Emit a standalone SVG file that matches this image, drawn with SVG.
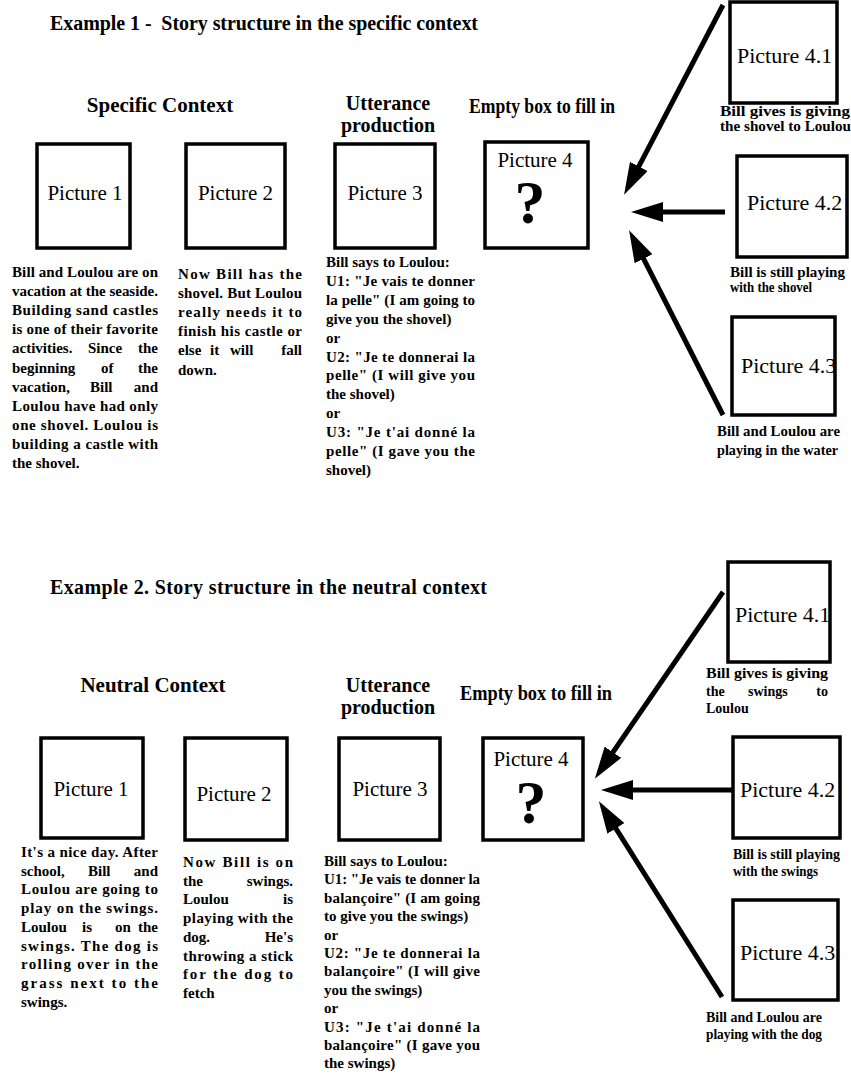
<svg xmlns="http://www.w3.org/2000/svg" width="851" height="1080" viewBox="0 0 851 1080">
<style>
text{font-family:"Liberation Serif","Times New Roman",serif;fill:#000}
.title{font-size:20px;font-weight:bold;white-space:pre}
.head{font-size:21px;font-weight:bold;text-anchor:middle}
.head2{font-size:20px;font-weight:bold;text-anchor:middle}
.pic{font-size:21px;text-anchor:middle}
.picl{font-size:22px}
.q{font-size:62px;font-weight:bold;text-anchor:middle}
.body{font-size:15px;font-weight:bold}
.cap{font-size:14px;font-weight:bold}
.end{text-anchor:end}
.box{fill:none;stroke:#000;stroke-width:3.5}
.arrow{stroke:#000;stroke-width:5;fill:none;marker-end:url(#ah)}
</style>
<defs>
<marker id="ah" markerUnits="userSpaceOnUse" markerWidth="32" markerHeight="20" viewBox="0 0 32 20" refX="22" refY="10" orient="auto">
<path d="M0,0 L32,10 L0,20 z" fill="#000"/>
</marker>
<clipPath id="c1"><rect x="730" y="2" width="107" height="101"/></clipPath>
<clipPath id="c2"><rect x="737" y="156" width="110" height="101"/></clipPath>
<clipPath id="c3"><rect x="732" y="317" width="103" height="98"/></clipPath>
<clipPath id="c4"><rect x="728" y="562" width="102" height="100"/></clipPath>
<clipPath id="c5"><rect x="733" y="737" width="107" height="101"/></clipPath>
<clipPath id="c6"><rect x="733" y="900" width="105" height="100"/></clipPath>
</defs>
<rect width="851" height="1080" fill="#fff"/>

<!-- Example 1 -->
<g id="ex1-headings">
<text class="title" x="50" y="30" textLength="428" lengthAdjust="spacing">Example 1 -  Story structure in the specific context</text>
<text class="head" x="160" y="112">Specific Context</text>
<text class="head2" x="388" y="110">Utterance</text>
<text class="head2" x="388" y="132">production</text>
<text class="head" x="542" y="113" textLength="146" lengthAdjust="spacingAndGlyphs">Empty box to fill in</text>
</g>

<g id="ex1-pic1">
<rect class="box" x="37" y="144" width="93" height="104"/>
<text class="pic" x="85" y="200">Picture 1</text>
<text class="body" x="12" y="277" textLength="146" lengthAdjust="spacing">Bill and Loulou are on</text>
<text class="body" x="12" y="296.1" textLength="146" lengthAdjust="spacing">vacation at the seaside.</text>
<text class="body" x="12" y="315.2" textLength="146" lengthAdjust="spacing">Building sand castles</text>
<text class="body" x="12" y="334.3" textLength="146" lengthAdjust="spacing">is one of their favorite</text>
<text class="body" x="12" y="353.4">activities.</text><text class="body" x="88" y="353.4">Since</text><text class="body end" x="158" y="353.4">the</text>
<text class="body" x="12" y="372.5">beginning</text><text class="body" x="101" y="372.5">of</text><text class="body end" x="158" y="372.5">the</text>
<text class="body" x="12" y="391.6">vacation,</text><text class="body" x="90" y="391.6">Bill</text><text class="body end" x="158" y="391.6">and</text>
<text class="body" x="12" y="410.7" textLength="146" lengthAdjust="spacing">Loulou have had only</text>
<text class="body" x="12" y="429.8" textLength="146" lengthAdjust="spacing">one shovel. Loulou is</text>
<text class="body" x="12" y="448.9" textLength="146" lengthAdjust="spacing">building a castle with</text>
<text class="body" x="12" y="468">the shovel.</text>
</g>

<g id="ex1-pic2">
<rect class="box" x="186" y="144" width="99" height="104"/>
<text class="pic" x="235.5" y="200">Picture 2</text>
<text class="body" x="178" y="279" textLength="124" lengthAdjust="spacing">Now Bill has the</text>
<text class="body" x="178" y="298.1" textLength="124" lengthAdjust="spacing">shovel. But Loulou</text>
<text class="body" x="178" y="317.2" textLength="124" lengthAdjust="spacing">really needs it to</text>
<text class="body" x="178" y="336.3" textLength="124" lengthAdjust="spacing">finish his castle or</text>
<text class="body" x="178" y="355.4">else</text><text class="body" x="210" y="355.4">it</text><text class="body" x="230" y="355.4">will</text><text class="body end" x="302" y="355.4">fall</text>
<text class="body" x="178" y="374.5">down.</text>
</g>

<g id="ex1-pic3">
<rect class="box" x="335" y="144" width="100" height="104"/>
<text class="pic" x="385" y="200">Picture 3</text>
<text class="body" x="326" y="267">Bill says to Loulou:</text>
<text class="body" x="326" y="285.9" textLength="149" lengthAdjust="spacing">U1: "Je vais te donner</text>
<text class="body" x="326" y="304.8" textLength="149" lengthAdjust="spacing">la pelle" (I am going to</text>
<text class="body" x="326" y="323.7">give you the shovel)</text>
<text class="body" x="326" y="342.6">or</text>
<text class="body" x="326" y="361.5" textLength="149" lengthAdjust="spacing">U2: "Je te donnerai la</text>
<text class="body" x="326" y="380.4" textLength="149" lengthAdjust="spacing">pelle" (I will give you</text>
<text class="body" x="326" y="399.3">the shovel)</text>
<text class="body" x="326" y="418.2">or</text>
<text class="body" x="326" y="437.1" textLength="149" lengthAdjust="spacing">U3: "Je t'ai donné la</text>
<text class="body" x="326" y="456" textLength="149" lengthAdjust="spacing">pelle" (I gave you the</text>
<text class="body" x="326" y="474.9">shovel)</text>
</g>

<g id="ex1-pic4">
<rect class="box" x="485" y="142" width="103" height="106"/>
<text class="pic" x="535" y="167">Picture 4</text>
<text class="q" x="530" y="223">?</text>
</g>

<g id="ex1-pic41">
<text class="picl" x="737" y="63" clip-path="url(#c1)">Picture 4.1</text>
<rect class="box" x="730" y="2" width="107" height="101"/>
<text class="cap" x="720" y="116" textLength="130" lengthAdjust="spacingAndGlyphs">Bill gives is giving</text>
<text class="cap" x="720" y="131" textLength="131" lengthAdjust="spacingAndGlyphs">the shovel to Loulou</text>
</g>

<g id="ex1-pic42">
<text class="picl" x="747" y="210" clip-path="url(#c2)">Picture 4.2</text>
<rect class="box" x="737" y="156" width="110" height="101"/>
<text class="cap" x="730" y="277" textLength="115" lengthAdjust="spacingAndGlyphs">Bill is still playing</text>
<text class="cap" x="730" y="292" textLength="82" lengthAdjust="spacingAndGlyphs">with the shovel</text>
</g>

<g id="ex1-pic43">
<text class="picl" x="741" y="373" clip-path="url(#c3)">Picture 4.3</text>
<rect class="box" x="732" y="317" width="103" height="98"/>
<text class="cap" x="717" y="436" textLength="123" lengthAdjust="spacingAndGlyphs">Bill and Loulou are</text>
<text class="cap" x="717" y="455" textLength="121" lengthAdjust="spacingAndGlyphs">playing in the water</text>
</g>

<!-- Example 2 -->
<g id="ex2-headings">
<text class="title" x="50" y="594" textLength="437" lengthAdjust="spacing">Example 2. Story structure in the neutral context</text>
<text class="head" x="153" y="692">Neutral Context</text>
<text class="head2" x="388" y="692">Utterance</text>
<text class="head2" x="388" y="714">production</text>
<text class="head" x="536" y="700" textLength="152" lengthAdjust="spacingAndGlyphs">Empty box to fill in</text>
</g>

<g id="ex2-pic1">
<rect class="box" x="41" y="738" width="102" height="100"/>
<text class="pic" x="91" y="796">Picture 1</text>
<text class="body" x="21" y="857" textLength="137" lengthAdjust="spacing">It's a nice day. After</text>
<text class="body" x="21" y="875.7">school,</text><text class="body" x="88" y="875.7">Bill</text><text class="body end" x="158" y="875.7">and</text>
<text class="body" x="21" y="894.4" textLength="137" lengthAdjust="spacing">Loulou are going to</text>
<text class="body" x="21" y="913.1" textLength="137" lengthAdjust="spacing">play on the swings.</text>
<text class="body" x="21" y="931.8">Loulou</text><text class="body" x="82" y="931.8">is</text><text class="body" x="115" y="931.8">on</text><text class="body end" x="158" y="931.8">the</text>
<text class="body" x="21" y="950.5" textLength="137" lengthAdjust="spacing">swings. The dog is</text>
<text class="body" x="21" y="969.2" textLength="137" lengthAdjust="spacing">rolling over in the</text>
<text class="body" x="21" y="987.9" textLength="137" lengthAdjust="spacing">grass next to the</text>
<text class="body" x="21" y="1006.6">swings.</text>
</g>

<g id="ex2-pic2">
<rect class="box" x="185" y="738" width="102" height="102"/>
<text class="pic" x="234" y="801">Picture 2</text>
<text class="body" x="183" y="867" textLength="110" lengthAdjust="spacing">Now Bill is on</text>
<text class="body" x="183" y="885.7">the</text><text class="body end" x="293" y="885.7">swings.</text>
<text class="body" x="183" y="904.4">Loulou</text><text class="body end" x="293" y="904.4">is</text>
<text class="body" x="183" y="923.1" textLength="110" lengthAdjust="spacing">playing with the</text>
<text class="body" x="183" y="941.8">dog.</text><text class="body end" x="293" y="941.8">He's</text>
<text class="body" x="183" y="960.5" textLength="110" lengthAdjust="spacing">throwing a stick</text>
<text class="body" x="183" y="979.2" textLength="110" lengthAdjust="spacing">for the dog to</text>
<text class="body" x="183" y="997.9">fetch</text>
</g>

<g id="ex2-pic3">
<rect class="box" x="339" y="738" width="101" height="102"/>
<text class="pic" x="390" y="796">Picture 3</text>
<text class="body" x="324" y="866">Bill says to Loulou:</text>
<text class="body" x="324" y="884.4" textLength="156" lengthAdjust="spacing">U1: "Je vais te donner la</text>
<text class="body" x="324" y="902.8" textLength="156" lengthAdjust="spacing">balançoire" (I am going</text>
<text class="body" x="324" y="921.2">to give you the swings)</text>
<text class="body" x="324" y="939.6">or</text>
<text class="body" x="324" y="958" textLength="156" lengthAdjust="spacing">U2: "Je te donnerai la</text>
<text class="body" x="324" y="976.4" textLength="156" lengthAdjust="spacing">balançoire" (I will give</text>
<text class="body" x="324" y="994.8">you the swings)</text>
<text class="body" x="324" y="1013.2">or</text>
<text class="body" x="324" y="1031.6" textLength="156" lengthAdjust="spacing">U3: "Je t'ai donné la</text>
<text class="body" x="324" y="1050" textLength="156" lengthAdjust="spacing">balançoire" (I gave you</text>
<text class="body" x="324" y="1068.4">the swings)</text>
</g>

<g id="ex2-pic4">
<rect class="box" x="483" y="738" width="100" height="102"/>
<text class="pic" x="531" y="766">Picture 4</text>
<text class="q" x="531" y="823">?</text>
</g>

<g id="ex2-pic41">
<text class="picl" x="735" y="622" clip-path="url(#c4)">Picture 4.1</text>
<rect class="box" x="728" y="562" width="102" height="100"/>
<text class="cap" x="706" y="678" textLength="122" lengthAdjust="spacingAndGlyphs">Bill gives is giving</text>
<text class="cap" x="706" y="696">the</text><text class="cap" x="748" y="696">swings</text><text class="cap end" x="828" y="696">to</text>
<text class="cap" x="706" y="713">Loulou</text>
</g>

<g id="ex2-pic42">
<text class="picl" x="740" y="797" clip-path="url(#c5)">Picture 4.2</text>
<rect class="box" x="733" y="737" width="107" height="101"/>
<text class="cap" x="733" y="859" textLength="107" lengthAdjust="spacingAndGlyphs">Bill is still playing</text>
<text class="cap" x="733" y="876" textLength="85" lengthAdjust="spacingAndGlyphs">with the swings</text>
</g>

<g id="ex2-pic43">
<text class="picl" x="740" y="960" clip-path="url(#c6)">Picture 4.3</text>
<rect class="box" x="733" y="900" width="105" height="100"/>
<text class="cap" x="706" y="1022" textLength="116" lengthAdjust="spacingAndGlyphs">Bill and Loulou are</text>
<text class="cap" x="706" y="1039" textLength="116" lengthAdjust="spacingAndGlyphs">playing with the dog</text>
</g>

<g id="connectors">
<line class="arrow" x1="723" y1="5" x2="628.7" y2="185.9"/>
<line class="arrow" x1="725" y1="212" x2="641" y2="212"/>
<line class="arrow" x1="723" y1="415" x2="633.6" y2="239.1"/>
<line class="arrow" x1="723" y1="592" x2="600.5" y2="770.4"/>
<line class="arrow" x1="733" y1="790" x2="611" y2="790"/>
<line class="arrow" x1="722" y1="997" x2="604.2" y2="809.8"/>
</g>
</svg>
